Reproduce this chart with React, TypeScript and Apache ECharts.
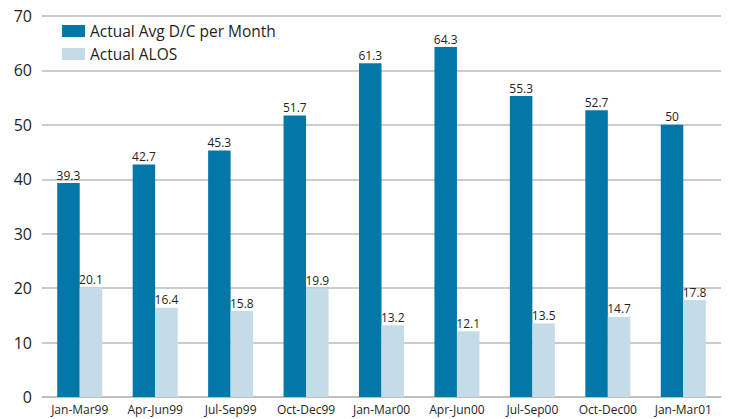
import React, { useEffect, useRef } from "react";
import * as echarts from "echarts";

const categories = ["Jan-Mar99", "Apr-Jun99", "Jul-Sep99", "Oct-Dec99", "Jan-Mar00", "Apr-Jun00", "Jul-Sep00", "Oct-Dec00", "Jan-Mar01"];
const avgDC = [39.3, 42.7, 45.3, 51.7, 61.3, 64.3, 55.3, 52.7, 50];
const alos = [20.1, 16.4, 15.8, 19.9, 13.2, 12.1, 13.5, 14.7, 17.8];
const seriesNames = ["Actual Avg D/C per Month", "Actual ALOS"];

const FONT = "'Open Sans', 'Noto Sans', sans-serif";
const TEXT = "#231F20";

export default function App() {
  const ref = useRef<HTMLDivElement>(null);
  useEffect(() => {
    if (!ref.current) return;
    const chart = echarts.init(ref.current, null, { renderer: "svg" });
    const label = {
      show: true,
      position: "top",
      distance: 2,
      color: TEXT,
      fontSize: 12,
      fontFamily: FONT,
    };
    chart.setOption({
      animation: false,
      backgroundColor: "#fff",
      grid: { left: 42, right: 9, top: 16, bottom: 22, containLabel: false },
      legend: {
        orient: "vertical",
        left: 57,
        top: 18,
        itemWidth: 23,
        itemHeight: 12,
        itemGap: 7,
        icon: "rect",
        textStyle: { color: TEXT, fontSize: 15.5, fontFamily: FONT },
        data: seriesNames,
      },
      xAxis: {
        type: "category",
        data: categories,
        axisLine: { show: true, lineStyle: { color: "#BBBBBB", width: 1.5 } },
        axisTick: { show: false },
        axisLabel: { color: TEXT, fontSize: 12, fontFamily: FONT, margin: 6, interval: 0 },
      },
      yAxis: {
        type: "value",
        min: 0,
        max: 70,
        interval: 10,
        axisLine: { show: false },
        axisTick: { show: false },
        splitLine: { lineStyle: { color: "#BBBBBB", width: 1.5 } },
        axisLabel: { color: TEXT, fontSize: 16, fontFamily: FONT, margin: 10 },
      },
      series: [
        {
          name: seriesNames[0],
          type: "bar",
          data: avgDC,
          barWidth: 22.5,
          barGap: "0%",
          itemStyle: { color: "#0378A8" },
          label,
        },
        {
          name: seriesNames[1],
          type: "bar",
          data: alos,
          barWidth: 22.5,
          barGap: "0%",
          itemStyle: { color: "#C4DCE8" },
          label,
        },
      ],
    });
    return () => chart.dispose();
  }, []);
  return <div ref={ref} style={{ position: "absolute", left: 0, top: 0, width: 730, height: 419 }} />;
}
